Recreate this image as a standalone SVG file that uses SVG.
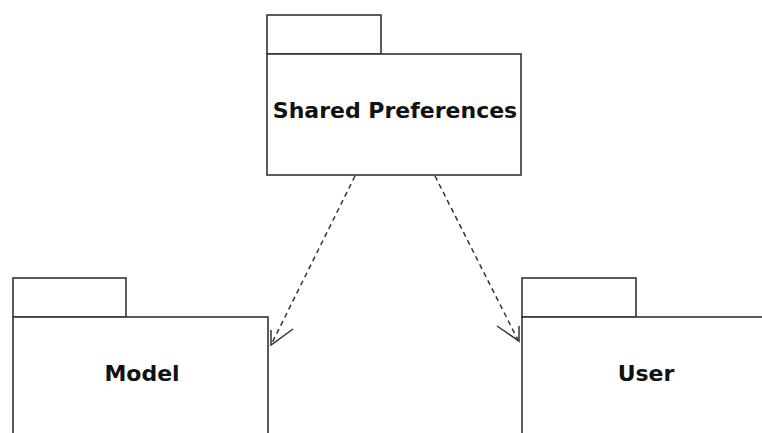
<svg xmlns="http://www.w3.org/2000/svg" width="762" height="433" viewBox="0 0 762 433">
<style>
.pk{fill:#fff;stroke:#333;stroke-width:1.6}
.lb{font-family:"DejaVu Sans",sans-serif;font-weight:bold;font-size:22px;fill:#111;text-anchor:middle}
.dep{fill:none;stroke:#333;stroke-width:1.5;stroke-dasharray:5,4}
.ah{fill:none;stroke:#333;stroke-width:1.5}
</style>
<rect width="762" height="433" fill="#fff"/>
<g id="shared-preferences">
<rect class="pk" x="267" y="15" width="114" height="39"/>
<rect class="pk" x="267" y="54" width="254" height="121"/>
<text class="lb" x="395" y="118">Shared Preferences</text>
</g>
<g id="model">
<rect class="pk" x="13" y="278" width="113" height="39"/>
<rect class="pk" x="13" y="317" width="255" height="130"/>
<text class="lb" x="142" y="381">Model</text>
</g>
<g id="user">
<rect class="pk" x="522" y="278" width="114" height="39"/>
<rect class="pk" x="522" y="317" width="260" height="130"/>
<text class="lb" x="646" y="381">User</text>
</g>
<g id="connectors">
<line class="dep" x1="355" y1="176" x2="271" y2="345"/>
<polyline class="ah" points="271,330 271,345 293,329"/>
<line class="dep" x1="435" y1="176" x2="519" y2="342"/>
<polyline class="ah" points="497,326 519,341 519,326"/>
</g>
</svg>
